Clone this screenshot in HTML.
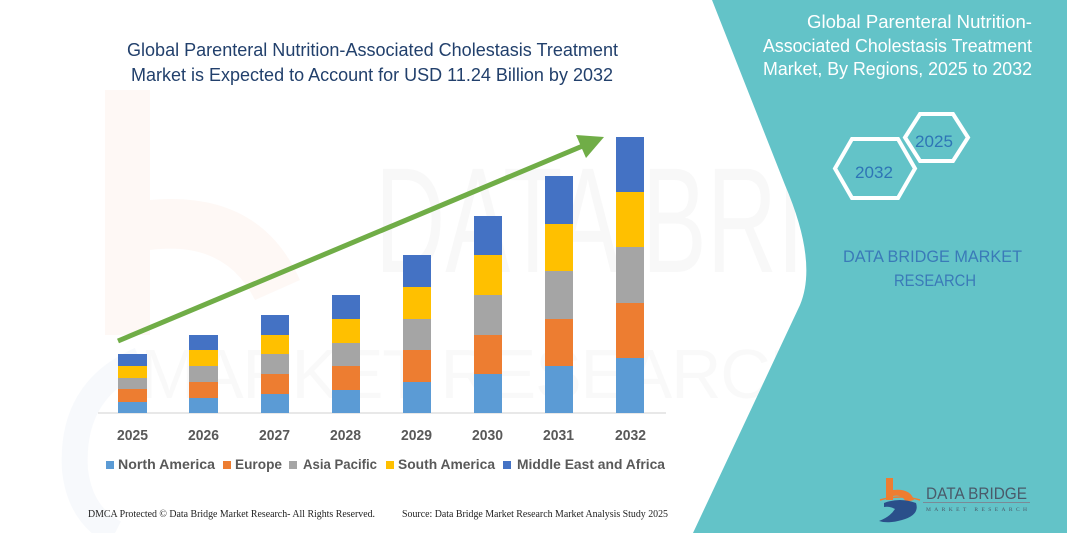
<!DOCTYPE html>
<html><head><meta charset="utf-8"><style>
html,body{margin:0;padding:0;background:#fff;}
svg{display:block;}
</style></head><body>
<svg width="1067" height="533" viewBox="0 0 1067 533" xmlns="http://www.w3.org/2000/svg">
<rect width="1067" height="533" fill="#ffffff"/>
<!-- faint watermark -->
<g opacity="0.07">
<path d="M105,90 L150,90 L150,200 Q260,190 300,280 L255,300 Q225,240 150,250 L150,335 L105,335 Z" fill="#f4a070"/>
</g>
<g opacity="0.045">
<path d="M140,360 Q70,390 75,470 Q80,515 115,533" fill="none" stroke="#4a78b0" stroke-width="26"/>
</g>
<text x="375" y="272" font-family="'Liberation Sans Narrow','Liberation Sans',sans-serif" font-size="150" textLength="640" lengthAdjust="spacingAndGlyphs" fill="#000" opacity="0.025">DATA BRIDGE</text>
<text x="140" y="398" font-family="'Liberation Sans',sans-serif" font-size="70" textLength="680" lengthAdjust="spacing" fill="#000" opacity="0.018">MARKET RESEARCH</text>

<!-- teal panel -->
<path d="M712,0 L785,185 Q818,262 800,305 L693,533 L1067,533 L1067,0 Z" fill="#63c3c8"/>

<!-- left title -->
<g font-family="'Liberation Sans',sans-serif" font-size="18.5" fill="#22406c">
<text x="127" y="56" textLength="491" lengthAdjust="spacingAndGlyphs">Global Parenteral Nutrition-Associated Cholestasis Treatment</text>
<text x="131" y="81" textLength="482" lengthAdjust="spacingAndGlyphs">Market is Expected to Account for USD 11.24 Billion by 2032</text>
</g>

<!-- axis -->
<line x1="98" y1="413" x2="666" y2="413" stroke="#d9d9d9" stroke-width="1.2"/>

<!-- bars -->
<g>
<rect x="118" y="402" width="29" height="11" fill="#5b9bd5"/>
<rect x="118" y="389" width="29" height="13" fill="#ed7d31"/>
<rect x="118" y="378" width="29" height="11" fill="#a5a5a5"/>
<rect x="118" y="366" width="29" height="12" fill="#ffc000"/>
<rect x="118" y="354" width="29" height="12" fill="#4472c4"/>
<rect x="189" y="398" width="29" height="15" fill="#5b9bd5"/>
<rect x="189" y="382" width="29" height="16" fill="#ed7d31"/>
<rect x="189" y="366" width="29" height="16" fill="#a5a5a5"/>
<rect x="189" y="350" width="29" height="16" fill="#ffc000"/>
<rect x="189" y="335" width="29" height="15" fill="#4472c4"/>
<rect x="261" y="394" width="28" height="19" fill="#5b9bd5"/>
<rect x="261" y="374" width="28" height="20" fill="#ed7d31"/>
<rect x="261" y="354" width="28" height="20" fill="#a5a5a5"/>
<rect x="261" y="335" width="28" height="19" fill="#ffc000"/>
<rect x="261" y="315" width="28" height="20" fill="#4472c4"/>
<rect x="332" y="390" width="28" height="23" fill="#5b9bd5"/>
<rect x="332" y="366" width="28" height="24" fill="#ed7d31"/>
<rect x="332" y="343" width="28" height="23" fill="#a5a5a5"/>
<rect x="332" y="319" width="28" height="24" fill="#ffc000"/>
<rect x="332" y="295" width="28" height="24" fill="#4472c4"/>
<rect x="403" y="382" width="28" height="31" fill="#5b9bd5"/>
<rect x="403" y="350" width="28" height="32" fill="#ed7d31"/>
<rect x="403" y="319" width="28" height="31" fill="#a5a5a5"/>
<rect x="403" y="287" width="28" height="32" fill="#ffc000"/>
<rect x="403" y="255" width="28" height="32" fill="#4472c4"/>
<rect x="474" y="374" width="28" height="39" fill="#5b9bd5"/>
<rect x="474" y="335" width="28" height="39" fill="#ed7d31"/>
<rect x="474" y="295" width="28" height="40" fill="#a5a5a5"/>
<rect x="474" y="255" width="28" height="40" fill="#ffc000"/>
<rect x="474" y="216" width="28" height="39" fill="#4472c4"/>
<rect x="545" y="366" width="28" height="47" fill="#5b9bd5"/>
<rect x="545" y="319" width="28" height="47" fill="#ed7d31"/>
<rect x="545" y="271" width="28" height="48" fill="#a5a5a5"/>
<rect x="545" y="224" width="28" height="47" fill="#ffc000"/>
<rect x="545" y="176" width="28" height="48" fill="#4472c4"/>
<rect x="616" y="358" width="28" height="55" fill="#5b9bd5"/>
<rect x="616" y="303" width="28" height="55" fill="#ed7d31"/>
<rect x="616" y="247" width="28" height="56" fill="#a5a5a5"/>
<rect x="616" y="192" width="28" height="55" fill="#ffc000"/>
<rect x="616" y="137" width="28" height="55" fill="#4472c4"/>
</g>

<!-- arrow -->
<line x1="118" y1="341" x2="585" y2="145" stroke="#70ad47" stroke-width="5"/>
<polygon points="604,137 586,158 576,135" fill="#70ad47"/>

<!-- year labels -->
<g font-family="'Liberation Sans',sans-serif" font-weight="bold" font-size="14.5" fill="#595959">
<text x="117" y="440" textLength="31" lengthAdjust="spacingAndGlyphs">2025</text>
<text x="188" y="440" textLength="31" lengthAdjust="spacingAndGlyphs">2026</text>
<text x="259" y="440" textLength="31" lengthAdjust="spacingAndGlyphs">2027</text>
<text x="330" y="440" textLength="31" lengthAdjust="spacingAndGlyphs">2028</text>
<text x="401" y="440" textLength="31" lengthAdjust="spacingAndGlyphs">2029</text>
<text x="472" y="440" textLength="31" lengthAdjust="spacingAndGlyphs">2030</text>
<text x="543" y="440" textLength="31" lengthAdjust="spacingAndGlyphs">2031</text>
<text x="615" y="440" textLength="31" lengthAdjust="spacingAndGlyphs">2032</text>
</g>

<!-- legend -->
<g font-family="'Liberation Sans',sans-serif" font-weight="bold" font-size="14" fill="#595959">
<rect x="106" y="461" width="8" height="8" fill="#5b9bd5"/>
<text x="118" y="469" textLength="97" lengthAdjust="spacingAndGlyphs">North America</text>
<rect x="223" y="461" width="8" height="8" fill="#ed7d31"/>
<text x="235" y="469" textLength="47" lengthAdjust="spacingAndGlyphs">Europe</text>
<rect x="289" y="461" width="8" height="8" fill="#a5a5a5"/>
<text x="303" y="469" textLength="74" lengthAdjust="spacingAndGlyphs">Asia Pacific</text>
<rect x="386" y="461" width="8" height="8" fill="#ffc000"/>
<text x="398" y="469" textLength="97" lengthAdjust="spacingAndGlyphs">South America</text>
<rect x="503" y="461" width="8" height="8" fill="#4472c4"/>
<text x="517" y="469" textLength="148" lengthAdjust="spacingAndGlyphs">Middle East and Africa</text>
</g>

<!-- footer -->
<g font-family="'Liberation Serif',serif" font-size="10" fill="#222">
<text x="88" y="517" textLength="287" lengthAdjust="spacingAndGlyphs">DMCA Protected © Data Bridge Market Research-  All Rights Reserved.</text>
<text x="402" y="517" textLength="266" lengthAdjust="spacingAndGlyphs">Source: Data Bridge Market Research  Market Analysis Study 2025</text>
</g>

<!-- right title -->
<g font-family="'Liberation Sans',sans-serif" font-size="18" fill="#ffffff">
<text x="807" y="28" textLength="225" lengthAdjust="spacingAndGlyphs">Global Parenteral Nutrition-</text>
<text x="763" y="52" textLength="269" lengthAdjust="spacingAndGlyphs">Associated Cholestasis Treatment</text>
<text x="763" y="75" textLength="269" lengthAdjust="spacingAndGlyphs">Market, By Regions, 2025 to 2032</text>
</g>

<!-- hexagons -->
<polygon points="905,137.5 920,114 953,114 968,137.5 953,161 920,161" fill="none" stroke="#ffffff" stroke-width="4"/>
<polygon points="835,168.5 852,139 898,139 915,168.5 898,198 852,198" fill="none" stroke="#ffffff" stroke-width="4"/>
<g font-family="'Liberation Sans',sans-serif" font-size="17" fill="#2e75b6">
<text x="915" y="147" textLength="38" lengthAdjust="spacingAndGlyphs">2025</text>
<text x="855" y="178" textLength="38" lengthAdjust="spacingAndGlyphs">2032</text>
</g>

<g font-family="'Liberation Sans',sans-serif" font-size="17" fill="#3a7ab8">
<text x="843" y="262" textLength="179" lengthAdjust="spacingAndGlyphs">DATA BRIDGE MARKET</text>
<text x="894" y="286" textLength="82" lengthAdjust="spacingAndGlyphs">RESEARCH</text>
</g>

<!-- logo -->
<g>
<path d="M886,478 L893,478 L893,490 Q910,488 914,500 L906,502 Q902,494 893,496 L893,500 L886,500 Z" fill="#ed7d31"/>
<path d="M884,503 Q900,497 916,503 Q920,515 902,520 Q888,524 879,521 Q890,517 895,509 Q890,506 884,507 Z" fill="#2a4f8a"/>
<path d="M880,500 Q900,494 920,500" fill="none" stroke="#ed7d31" stroke-width="1.5"/>
<text x="926" y="499" font-family="'Liberation Sans',sans-serif" font-size="16.5" fill="#4a5a6a" textLength="101" lengthAdjust="spacingAndGlyphs">DATA BRIDGE</text>
<line x1="923" y1="502.5" x2="1030" y2="502.5" stroke="#7a8a96" stroke-width="1"/>
<text x="926" y="511" font-family="'Liberation Serif',serif" font-size="5.5" fill="#4a5a6a" textLength="101" lengthAdjust="spacing">MARKET  RESEARCH</text>
</g>
</svg>
</body></html>
